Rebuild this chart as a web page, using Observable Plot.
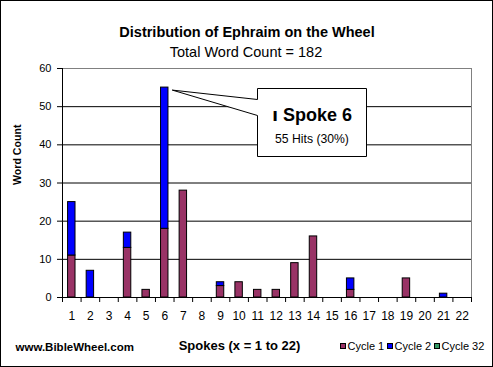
<!DOCTYPE html>
<html><head><meta charset="utf-8">
<script src="https://cdn.jsdelivr.net/npm/d3@7"></script>
<script src="https://cdn.jsdelivr.net/npm/@observablehq/plot@0.6"></script>
<style>
html,body{margin:0;padding:0;background:#fff;}
#chart{position:relative;width:493px;height:367px;}
#chart svg{display:block;outline:1px solid #000;outline-offset:-1px;}
</style></head><body><div id="chart"></div>
<script>
// ---- data ----
const spokes  = [1,2,3,4,5,6,7,8,9,10,11,12,13,14,15,16,17,18,19,20,21,22];
const cycle1  = [11,0,0,13,2,18,28,0,3,4,2,2,9,16,0,2,0,0,5,0,0,0];
const cycle2  = [14,7,0,4,0,37,0,0,1,0,0,0,0,0,0,3,0,0,0,0,1,0];
const cycle32 = [0,0,0,0,0,0,0,0,0,0,0,0,0,0,0,0,0,0,0,0,0,0];
const cycles = ["Cycle 1", "Cycle 2", "Cycle 32"];
const cycleColors = ["#993366", "#0000ff", "#339966"];
const yTicks = [0, 10, 20, 30, 40, 50, 60];
const gridTicks = [10, 20, 30, 40, 50];
const titleText = "Distribution of Ephraim on the Wheel";
const subtitleText = "Total Word Count = 182";
const xLabel = "Spokes (x = 1 to 22)";
const yLabel = "Word Count";
const creditText = "www.BibleWheel.com";
const calloutSpoke = 6;
const calloutLetter = "\u05D5";
const calloutTitle = "Spoke 6";
const calloutNote = "55 Hits (30%)";

const series = [cycle1, cycle2, cycle32];
const rows = [];
spokes.forEach((s, i) => series.forEach((arr, k) => {
  if (arr[i] > 0) rows.push({spoke: s, cycle: cycles[k], value: arr[i]});
}));
const boundaries = spokes.map(s => s - 0.5).concat([spokes[spokes.length - 1] + 0.5]);
const calloutIndex = spokes.indexOf(calloutSpoke);
const calloutTotal = series.reduce((a, arr) => a + arr[calloutIndex], 0);

const FONT = "'Liberation Sans', Arial, Helvetica, sans-serif";

function calloutMark(index, scales, values, dims) {
  const ax = scales.x(calloutSpoke), ay = scales.y(calloutTotal);
  const px = ax + 8, py = ay + 3;
  const L = Math.round(ax + 93) + 0.5, T = Math.round(ay + 1) + 0.5, W = 109, H = 68;
  const g = d3.create("svg:g").attr("font-family", FONT);
  g.append("path")
    .attr("d", `M${px},${py}L${L},${T + 11}L${L},${T}L${L + W},${T}L${L + W},${T + H}L${L},${T + H}L${L},${T + 27}Z`)
    .attr("fill", "white").attr("stroke", "black").attr("stroke-width", 1);
  const t = g.append("text").attr("x", L + W / 2).attr("y", T + 32.5)
    .attr("text-anchor", "middle").attr("font-size", 18).attr("font-weight", "bold");
  t.append("tspan").attr("font-family", "'DejaVu Sans', sans-serif").text(calloutLetter);
  t.append("tspan").text(" " + calloutTitle);
  g.append("text").attr("x", L + W / 2).attr("y", T + 54.5)
    .attr("text-anchor", "middle").attr("font-size", 12.2)
    .text(calloutNote);
  return g.node();
}

function legendMark(index, scales, values, dims) {
  const g = d3.create("svg:g").attr("font-family", FONT).attr("font-size", 11).attr("text-anchor", "start");
  const xs = [340, 387, 434];
  cycles.forEach((c, i) => {
    g.append("rect").attr("x", xs[i] + 0.5).attr("y", 343.5).attr("width", 5).attr("height", 5)
      .attr("fill", scales.color(c)).attr("stroke", "black");
    g.append("text").attr("x", xs[i] + 7.5).attr("y", 349.5).attr("text-anchor", "start").text(c);
  });
  return g.node();
}

const chart = Plot.plot({
  width: 493,
  height: 367,
  marginLeft: 62,
  marginRight: 22,
  marginTop: 68,
  marginBottom: 70,
  style: {fontFamily: FONT, fontSize: "12px", background: "white", color: "black"},
  x: {domain: [0.5, 22.5]},
  y: {domain: [0, 60]},
  color: {domain: cycles, range: cycleColors},
  marks: [
    Plot.frame({stroke: "#808080"}),
    Plot.gridY(gridTicks, {stroke: "black", strokeOpacity: 1}),
    Plot.rectY(rows, {x1: d => d.spoke - 0.2, x2: d => d.spoke + 0.2, y: "value", fill: "cycle", stroke: "black", strokeWidth: 1}),
    Plot.ruleY([0], {stroke: "black"}),
    Plot.ruleX([0.5], {stroke: "black"}),
    Plot.axisY(yTicks, {tickSize: 5, tickPadding: 6, fontSize: 11, label: null}),
    Plot.axisX(boundaries, {tickSize: 5, tickFormat: () => "", label: null}),
    Plot.axisX(spokes, {tickSize: 0, tickPadding: 14, fontSize: 12, label: null}),
    calloutMark,
    Plot.text([titleText], {text: d => d, frameAnchor: "top", dx: -20, dy: -41.6, fontSize: 14.5, fontWeight: "bold"}),
    Plot.text([subtitleText], {text: d => d, frameAnchor: "top", dx: -21, dy: -21.6, fontSize: 14.5}),
    Plot.text([xLabel], {text: d => d, frameAnchor: "bottom", dx: -27.5, dy: 52.8, fontSize: 13, fontWeight: "bold"}),
    Plot.text([creditText], {text: d => d, frameAnchor: "bottom-left", textAnchor: "start", dx: -47, dy: 53.3, fontSize: 11.5, fontWeight: "bold"}),
    Plot.text([yLabel], {text: d => d, frameAnchor: "left", rotate: -90, dx: -45, dy: 2, fontSize: 10.6, fontWeight: "bold"}),
    legendMark
  ]
});
document.getElementById("chart").appendChild(chart);
</script>
</body></html>
